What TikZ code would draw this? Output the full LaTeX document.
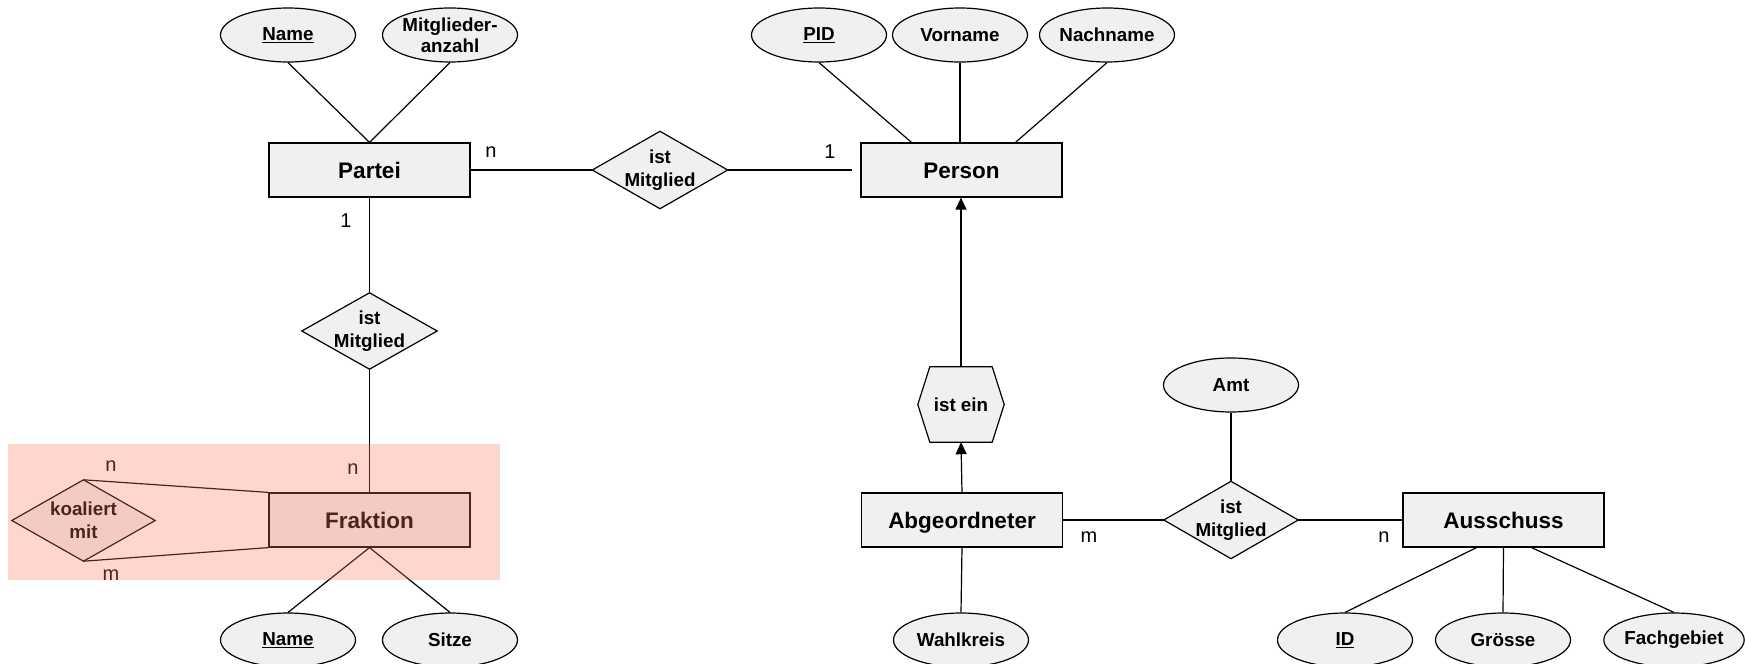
\documentclass[tikz,border=0pt]{standalone}
\usepackage{fontspec}
\setmainfont{Liberation Sans}
\usetikzlibrary{shapes.geometric,arrows.meta,backgrounds}
\definecolor{boxgray}{RGB}{240,240,240}
\definecolor{hlred}{RGB}{255,118,92}
\tikzset{
  entity/.style={rectangle, draw, fill=boxgray, line width=1.2pt, minimum width=201pt, minimum height=54pt, inner sep=0pt, text height=16.2pt, text depth=0pt, font=\fontsize{22.5pt}{26pt}\selectfont\bfseries},
  attr/.style={ellipse, draw, fill=boxgray, line width=1.2pt, minimum width=135pt, minimum height=54pt, inner sep=0pt, align=center, font=\fontsize{18.8pt}{21pt}\selectfont\bfseries},
  rel/.style={rectangle, inner sep=0pt, align=center, font=\fontsize{18.8pt}{22.5pt}\selectfont\bfseries},
  card/.style={inner sep=0pt, font=\fontsize{20pt}{24pt}\selectfont},
  conn/.style={line width=1.2pt},
  isa/.style={line width=1.2pt, -{Triangle[width=11pt,length=12pt]}},
  relshape/.style={draw, fill=boxgray, line width=1.2pt, line join=miter},
  highlight/.style={fill=hlred, fill opacity=0.3}
}
\begin{document}
\begin{tikzpicture}[x=1pt,y=-1pt]
\useasboundingbox (0,0) rectangle (1746,664);
% entities
\node[entity] (partei) at (369.5,170) {Partei};
\node[entity] (person) at (961.5,170) {Person};
\node[entity] (fraktion) at (369.5,520) {Fraktion};
\node[entity] (abg) at (962,520) {Abgeordneter};
\node[entity] (aus) at (1503.5,520) {Ausschuss};
% attributes
\node[attr] (pname) at (288,35) {\underline{Name}};
\node[attr] (pmitgl) at (450,35) {Mitglieder-\\anzahl};
\node[attr] (pid) at (819,35) {\underline{PID}};
\node[attr] (vorname) at (960,35) {Vorname};
\node[attr] (nachname) at (1107,35) {Nachname};
\node[attr] (fname) at (288,640) {\underline{Name}};
\node[attr] (sitze) at (450,640) {Sitze};
\node[attr] (wahlkreis) at (961,640) {Wahlkreis};
\node[attr] (amt) at (1231,385) {Amt};
\node[attr] (id) at (1345,640) {\underline{ID}};
\node[attr] (groesse) at (1503,640) {Grösse};
\node[attr] (fach) at (1674,640) {Fachgebiet};
% relationships
\node[rel, minimum width=135pt, minimum height=77pt] (r1) at (660,170) {ist\\Mitglied};
\node[rel, minimum width=135pt, minimum height=76pt] (r2) at (369.5,331) {ist\\Mitglied};
\node[rel, minimum width=134pt, minimum height=77pt] (r3) at (1231,520) {ist\\Mitglied};
\node[rel, minimum width=143pt, minimum height=81pt] (rk) at (83.5,520.5) {koaliert\\mit};
\node[rel, minimum width=86pt, minimum height=75pt] (hex) at (961,404.5) {ist ein};
\begin{scope}[on background layer]
  \foreach \n in {r1,r2,r3,rk}
    \draw[relshape] (\n.west) -- (\n.north) -- (\n.east) -- (\n.south) -- cycle;
  \draw[relshape] (hex.west) -- ([xshift=12pt]hex.north west) -- ([xshift=-12pt]hex.north east)
     -- (hex.east) -- ([xshift=-12pt]hex.south east) -- ([xshift=12pt]hex.south west) -- cycle;
\end{scope}
% attribute connectors
\draw[conn] (pname.south) -- (partei.north);
\draw[conn] (pmitgl.south) -- (partei.north);
\draw[conn] (pid.south) -- ([xshift=-50pt]person.north);
\draw[conn] (vorname.south) -- (vorname.south |- person.north);
\draw[conn] (nachname.south) -- ([xshift=54pt]person.north);
\draw[conn] (fraktion.south) -- (fname.north);
\draw[conn] (fraktion.south) -- (sitze.north);
\draw[conn] (abg.south) -- (wahlkreis.north);
\draw[conn] (amt.south) -- (r3.north);
\draw[conn] ([xshift=-27pt]aus.south) -- (id.north);
\draw[conn] (aus.south) -- (groesse.north);
\draw[conn] ([xshift=28pt]aus.south) -- (fach.north);
% relationship connectors
\draw[conn] (partei.east) -- (r1.west);
\draw[conn, shorten >=8pt] (r1.east) -- (person.west);
\draw[conn] (partei.south) -- (r2.north);
\draw[conn] (r2.south) -- (fraktion.north);
\draw[conn] (rk.north) -- (fraktion.north west);
\draw[conn] (rk.south) -- (fraktion.south west);
\draw[conn] (abg.east) -- (r3.west);
\draw[conn] (r3.east) -- (aus.west);
\draw[isa] (abg.north) -- (hex.south);
\draw[isa] (hex.north) -- (hex.north |- person.south);
% cardinalities
\node[card] (c1) at (491,152) {n};
\node[card] (c2) at (830,152) {1};
\node[card] (c3) at (346,221) {1};
\node[card] (c4) at (353,469) {n};
\node[card] (c5) at (111,466) {n};
\node[card] (c6) at (111,575) {m};
\node[card] (c7) at (1089,537) {m};
\node[card] (c8) at (1384,537) {n};
% highlight overlay
\fill[highlight] (8,444) rectangle (500,580);
\end{tikzpicture}
\end{document}
